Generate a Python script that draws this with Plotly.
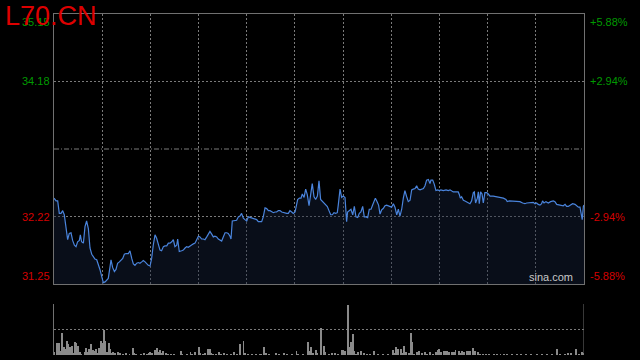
import plotly.graph_objects as go

# ---------------- data ----------------
title_text = "L70.CN"
prev_close = 33.20
y_low, y_high = 31.25, 35.15
price_labels = [35.15, 34.18, 32.22, 31.25]
pct_labels = ["+5.88%", "+2.94%", "-2.94%", "-5.88%"]
session_minutes = 330
grid_step = 30

price_t = [
    0, 1.3, 2.3, 3.3, 4.4, 5.4, 6.4, 7.5, 8.5, 9.5,
    10.6, 11.6, 12.7, 13.7, 14.7, 15.8, 16.4, 17.2, 18.3, 19.3,
    20.3, 21.4, 22.4, 23.5, 24.5, 25.5, 26.6, 27.6, 28.6, 29.7,
    30.7, 31.8, 32.8, 33.8, 34.9, 35.5, 36.5, 37.6, 38.6, 39.6,
    40.7, 41.7, 42.8, 43.8, 44.8, 46.3, 47.3, 48.4, 49.4, 50.4,
    51.5, 52.5, 53.5, 54.6, 55.6, 56.7, 57.7, 58.7, 59.8, 60.8,
    61.8, 62.9, 63.9, 65.0, 66.0, 67.0, 68.1, 69.1, 70.2, 71.2,
    72.2, 73.3, 74.3, 75.3, 76.4, 77.0, 78.0, 79.5, 80.5, 81.6,
    82.6, 83.6, 84.7, 85.7, 86.8, 87.8, 88.8, 89.9, 90.9, 91.9,
    93.0, 94.0, 95.1, 96.1, 97.1, 98.2, 99.2, 100.2, 101.3, 102.3,
    103.4, 104.4, 105.4, 106.5, 107.5, 108.5, 109.6, 110.2, 111.0, 112.7,
    113.7, 114.8, 115.8,
    116.8, 117.9, 118.9, 120.0, 121.0, 122.0, 123.1, 124.1, 125.1, 126.2,
    127.2, 128.3, 129.3, 130.3, 131.4, 132.4, 133.5, 134.5, 135.5, 136.6,
    137.6, 138.6, 139.7, 140.7, 141.8, 142.8, 143.8, 144.9, 145.9, 146.9,
    148.0, 149.0, 150.1, 151.1, 151.7, 152.8, 153.8, 154.6, 155.7, 156.7,
    157.7, 158.8, 159.8, 160.8, 161.9, 162.9, 164.0, 165.0, 166.0, 167.1,
    168.1, 169.1, 170.2, 171.2, 172.3, 173.3, 174.3, 175.4, 176.4, 177.0,
    178.1, 179.1, 180.1, 181.2, 182.2, 182.8, 183.9, 184.9, 186.0, 187.0,
    188.0, 189.1, 190.1, 191.1, 192.2, 193.2, 194.3, 195.3, 196.3, 197.4,
    198.4, 199.4, 200.1, 201.1, 202.1, 203.0, 204.0, 205.0, 206.1, 207.1,
    208.2, 209.2, 210.2, 211.3, 212.3, 213.4, 214.4, 215.4, 216.5, 217.5,
    218.5, 219.6, 220.6, 221.7, 222.7, 223.7, 224.8, 225.8, 226.8, 227.9,
    228.9, 230.0, 231.0, 232.0, 233.1, 234.1,
    234.7, 235.8, 236.8, 237.8, 238.9, 239.9, 240.9, 242.4, 244.1, 245.5,
    246.6, 247.6, 248.6, 250.3, 251.7, 252.4, 253.0, 253.8, 254.9, 255.9,
    256.9, 258.0, 259.0, 260.0, 261.1, 261.7, 262.5, 263.6, 264.2, 264.8,
    265.6, 266.5, 267.3, 268.3, 269.4, 270.4, 271.5, 273.5, 275.6, 277.7,
    279.8, 281.4, 282.2, 283.5, 286.0, 288.1, 290.1, 291.8, 293.2, 294.3,
    296.4, 298.4, 299.5, 300.5, 301.5, 302.6, 303.6, 304.2, 305.1, 306.3,
    307.8, 309.2, 310.9, 311.9, 313.0, 314.6, 316.1, 317.1, 318.2, 319.2,
    320.2, 321.3, 322.9, 324.4, 325.4, 326.5, 327.5, 328.3, 328.9, 329.6,
    330.0,
]

price = [
    32.49, 32.45, 32.45, 32.27, 32.27, 32.31, 32.25, 32.08, 31.89, 31.98,
    31.99, 31.88, 31.81, 31.79, 31.86, 31.88, 31.96, 31.86, 31.84, 32.08,
    32.16, 32.05, 31.77, 31.68, 31.64, 31.61, 31.60, 31.54, 31.46, 31.36,
    31.27, 31.28, 31.30, 31.33, 31.50, 31.60, 31.49, 31.43, 31.46, 31.55,
    31.57, 31.59, 31.62, 31.68, 31.69, 31.69, 31.73, 31.62, 31.54, 31.52,
    31.55, 31.56, 31.55, 31.57, 31.59, 31.57, 31.54, 31.52, 31.51, 31.62,
    31.81, 31.96, 31.91, 31.81, 31.74, 31.73, 31.79, 31.80, 31.80, 31.84,
    31.84, 31.86, 31.89, 31.79, 31.81, 31.90, 31.72, 31.73, 31.74, 31.77,
    31.79, 31.78, 31.80, 31.81, 31.83, 31.84, 31.88, 31.94, 31.93, 31.90,
    31.90, 31.89, 31.93, 31.97, 32.01, 31.97, 31.93, 31.94, 31.93, 31.90,
    31.89, 31.87, 31.93, 31.99, 31.99, 31.98, 31.94, 31.90, 32.16, 32.17,
    32.17, 32.22, 32.23,
    32.27, 32.20, 32.18, 32.16, 32.22, 32.21, 32.20, 32.20, 32.19, 32.18,
    32.15, 32.15, 32.15, 32.22, 32.35, 32.34, 32.31, 32.31, 32.29, 32.28,
    32.29, 32.29, 32.31, 32.31, 32.29, 32.28, 32.27, 32.27, 32.27, 32.31,
    32.29, 32.27, 32.29, 32.41, 32.47, 32.49, 32.49, 32.55, 32.50, 32.62,
    32.54, 32.38, 32.54, 32.70, 32.51, 32.47, 32.52, 32.74, 32.47, 32.44,
    32.42, 32.39, 32.37, 32.31, 32.25, 32.25, 32.28, 32.27, 32.28, 32.39,
    32.62, 32.50, 32.52, 32.50, 32.15, 32.29, 32.31, 32.33, 32.25, 32.37,
    32.22, 32.21, 32.27, 32.29, 32.37, 32.22, 32.22, 32.21, 32.33, 32.33,
    32.39, 32.44, 32.49, 32.44, 32.39, 32.26, 32.32, 32.34, 32.38, 32.39,
    32.38, 32.37, 32.36, 32.41, 32.36, 32.25, 32.33, 32.23, 32.33, 32.49,
    32.60, 32.51, 32.44, 32.46, 32.61, 32.62, 32.63, 32.67, 32.62, 32.61,
    32.62, 32.63, 32.67, 32.75, 32.76, 32.70,
    32.75, 32.75, 32.69, 32.60, 32.61, 32.60, 32.61, 32.60, 32.61, 32.60,
    32.61, 32.60, 32.58, 32.58, 32.58, 32.54, 32.49, 32.51, 32.46, 32.45,
    32.44, 32.43, 32.41, 32.45, 32.57, 32.58, 32.42, 32.49, 32.58, 32.41,
    32.58, 32.55, 32.42, 32.57, 32.57, 32.55, 32.52, 32.52, 32.51, 32.50,
    32.49, 32.47, 32.44, 32.45, 32.45, 32.45, 32.44, 32.42, 32.41, 32.42,
    32.42, 32.43, 32.41, 32.42, 32.40, 32.39, 32.41, 32.45, 32.42, 32.44,
    32.42, 32.44, 32.45, 32.44, 32.40, 32.39, 32.39, 32.38, 32.40, 32.37,
    32.37, 32.39, 32.41, 32.40, 32.38, 32.36, 32.36, 32.25, 32.18, 32.37,
    32.39,
]

vol_t = [
    0, 2, 3, 4, 5, 6, 7, 8, 9, 10,
    11, 12, 13, 14, 15, 16, 17, 19, 20, 21,
    22, 23, 24, 25, 26, 27, 28, 29, 30, 31,
    32, 33, 34, 35, 36, 37, 38, 40, 41, 43,
    45, 47, 49, 50, 51, 54, 56, 58, 59, 60,
    61, 63, 64, 65, 66, 67, 68, 70, 71, 73,
    75, 79, 80, 83, 85, 86, 88, 90, 91, 93,
    94, 96, 97, 98, 99, 101, 103, 104, 106, 108,
    110, 112, 114, 116, 118, 119, 121, 123, 126, 128,
    129, 131, 132, 134, 138, 140, 143, 145, 148, 151,
    152, 155, 158, 159, 160, 161, 163, 164, 166, 168,
    169, 171, 173, 175, 177, 179, 180, 181, 183, 184,
    185, 186, 187, 188, 189, 191, 193, 195, 197, 199,
    202, 205, 208, 211, 212, 213, 214, 216, 217, 218,
    219, 221, 222, 223, 224, 226, 227, 229, 231, 232,
    234, 236, 238, 239, 240, 241, 243, 244, 245, 246,
    248, 249, 250, 252, 253, 254, 255, 257, 258, 259,
    261, 262, 264, 265, 267, 269, 271, 274, 276, 278,
    280, 282, 285, 288, 291, 294, 297, 301, 304, 307,
    310, 313, 315, 318, 320, 322, 325, 327, 329, 330,
]

vol = [
    66, 246, 246, 86, 446, 166, 114, 286, 220, 154,
    180, 46, 266, 246, 180, 66, 20, 66, 134, 66,
    114, 220, 100, 86, 114, 34, 134, 286, 246, 500,
    286, 66, 246, 114, 34, 66, 34, 60, 34, 20,
    46, 20, 140, 46, 20, 20, 34, 20, 34, 66,
    34, 100, 146, 66, 100, 34, 80, 34, 20, 20,
    20, 86, 20, 20, 60, 20, 66, 166, 34, 20,
    34, 114, 126, 46, 20, 20, 60, 20, 46, 20,
    20, 66, 20, 220, 286, 34, 20, 20, 20, 20,
    20, 166, 34, 20, 34, 20, 34, 20, 20, 80,
    20, 20, 266, 86, 166, 34, 100, 46, 546, 180,
    66, 20, 34, 34, 20, 100, 100, 86, 1006, 154,
    266, 420, 86, 20, 66, 80, 34, 20, 20, 80,
    20, 20, 20, 100, 34, 154, 114, 114, 34, 180,
    66, 34, 434, 266, 20, 60, 80, 34, 60, 20,
    60, 20, 60, 100, 114, 60, 86, 86, 86, 60,
    60, 60, 100, 80, 46, 80, 66, 80, 80, 80,
    134, 80, 60, 20, 20, 20, 20, 20, 20, 20,
    20, 20, 20, 20, 20, 20, 20, 20, 20, 20,
    20, 114, 20, 20, 34, 46, 114, 20, 60, 46,
]

# ---------------- styles ----------------
FONT = "Liberation Sans, Arial, sans-serif"
UP = "#009a00"
DOWN = "#d40000"
BORDER = "#707070"
GRID = "#7a7a7a"
LINE = "#4a84dc"

n = min(len(price_t), len(price))
price_t, price = price_t[:n], price[:n]
m = min(len(vol_t), len(vol))
vol_t, vol = vol_t[:m], vol[:m]
vmax = max(vol)
vtop = vmax * 1.01

fig = go.Figure()

# baseline for fill
fig.add_trace(go.Scatter(
    x=price_t, y=[y_low] * n, mode="lines", line=dict(width=0),
    hoverinfo="skip", showlegend=False, xaxis="x", yaxis="y"))
fig.add_trace(go.Scatter(
    x=price_t, y=price, mode="lines", fill="tonexty",
    fillcolor="rgba(22,34,60,0.42)",
    line=dict(color=LINE, width=1.2), showlegend=False,
    xaxis="x", yaxis="y"))

fig.add_trace(go.Bar(
    x=vol_t, y=vol, width=0.6, marker=dict(color="#8a8a8a", line=dict(width=0)),
    showlegend=False, xaxis="x2", yaxis="y2"))

grid_vals = list(range(0, session_minutes + 1, grid_step))

fig.update_layout(
    width=640, height=360,
    margin=dict(l=54, r=56, t=14, b=5),
    paper_bgcolor="#000000", plot_bgcolor="#000000",
    font=dict(family=FONT, size=11, color="#cccccc"),
    bargap=0,
    xaxis=dict(domain=[0, 1], anchor="y", range=[0, session_minutes],
               tickvals=grid_vals, showticklabels=False, ticks="",
               showgrid=True, gridcolor=GRID, griddash="2px,2px", gridwidth=1,
               showline=True, mirror=True, linecolor=BORDER, linewidth=1,
               zeroline=False, fixedrange=True),
    yaxis=dict(domain=[71 / 341, 1], anchor="x", range=[y_low, y_high],
               tickvals=[price_labels[1], price_labels[2]], showticklabels=False,
               ticks="", showgrid=True, gridcolor=GRID, griddash="2px,2px",
               showline=True, mirror=True, linecolor=BORDER, linewidth=1,
               zeroline=False, fixedrange=True),
    xaxis2=dict(domain=[0, 1], anchor="y2", range=[0, session_minutes],
                showticklabels=False, ticks="", showgrid=False,
                showline=False, zeroline=False, fixedrange=True),
    yaxis2=dict(domain=[0, 51 / 341], anchor="x2", range=[0, vtop],
                tickvals=[vtop / 2, vtop * 0.995], showticklabels=False, ticks="",
                showgrid=True, gridcolor=GRID, griddash="2px,2px",
                showline=True, mirror=False, linecolor=BORDER, linewidth=1,
                zeroline=False, fixedrange=True),
)

# right border of the volume panel
fig.add_shape(type="line", xref="x2", yref="y2", x0=session_minutes, x1=session_minutes,
              y0=0, y1=vtop, line=dict(color=BORDER, width=1))

# previous close dash-dot line
fig.add_shape(type="line", xref="x", yref="y", x0=0, x1=session_minutes,
              y0=prev_close, y1=prev_close,
              line=dict(color=GRID, width=1, dash="5px,2px,1px,2px"))

anchors = ["top", "middle", "middle", "bottom"]
for val, pct, ya in zip(price_labels, pct_labels, anchors):
    col = UP if val > prev_close else DOWN
    fig.add_annotation(xref="paper", yref="y", x=0, y=val, text=f"{val:.2f}",
                       xanchor="right", yanchor=ya, xshift=-2, showarrow=False,
                       font=dict(family=FONT, size=11, color=col))
    fig.add_annotation(xref="paper", yref="y", x=1, y=val, text=pct,
                       xanchor="left", yanchor=ya, xshift=4, showarrow=False,
                       font=dict(family=FONT, size=11, color=col))

# title
fig.add_annotation(xref="paper", yref="paper", x=-51 / 530, y=1 + 15 / 341,
                   text=title_text, xanchor="left", yanchor="top",
                   showarrow=False,
                   font=dict(family=FONT, size=27, color="#dd0000"))

# watermark
fig.add_annotation(xref="paper", yref="y", x=1, y=y_low, text="sina.com",
                   xanchor="right", yanchor="bottom", xshift=-9, yshift=-1,
                   showarrow=False,
                   font=dict(family=FONT, size=11, color="#c8c8c8"))

fig.write_html("out.html")
